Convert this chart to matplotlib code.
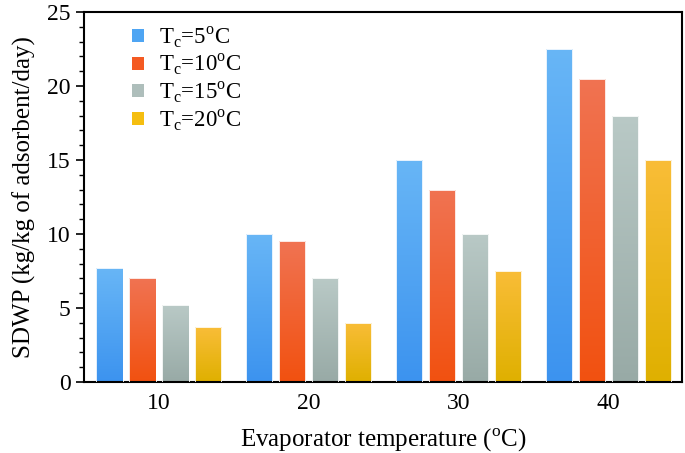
import numpy as np
import matplotlib
matplotlib.use("Agg")
import matplotlib.pyplot as plt
from matplotlib.colors import LinearSegmentedColormap
from matplotlib.patches import Patch

plt.rcParams["font.family"] = ["Liberation Serif", "DejaVu Serif"]
plt.rcParams["mathtext.fontset"] = "custom"
plt.rcParams["mathtext.rm"] = "Liberation Serif"

# data
evap_temps = [10, 20, 30, 40]
series_labels = ["T$_\\mathregular{c}$=5$^\\mathregular{o}$C",
                 "T$_\\mathregular{c}$=10$^\\mathregular{o}$C",
                 "T$_\\mathregular{c}$=15$^\\mathregular{o}$C",
                 "T$_\\mathregular{c}$=20$^\\mathregular{o}$C"]
sdwp_tc5 = [7.7, 10.0, 15.0, 22.5]
sdwp_tc10 = [7.0, 9.5, 13.0, 20.5]
sdwp_tc15 = [5.2, 7.0, 10.0, 18.0]
sdwp_tc20 = [3.7, 4.0, 7.5, 15.0]

# (top colour, bottom colour) for the gradient fill
grad_colors = [("#68b6f6", "#3c93ef"),
               ("#f07352", "#f25110"),
               ("#b9c9c6", "#98aaa6"),
               ("#f9bd38", "#dfb000")]
legend_colors = ["#4ea5f3", "#f45a22", "#aebebb", "#f5be10"]

fig = plt.figure(figsize=(6.85, 4.53), dpi=100)
ax = fig.add_axes([0.1226, 0.1567, 0.873, 0.817])

width = 1.75
step = 2.2
offsets = [-1.5 * step, -0.5 * step, 0.5 * step, 1.5 * step]
all_series = [sdwp_tc5, sdwp_tc10, sdwp_tc15, sdwp_tc20]

x = np.array(evap_temps, dtype=float)
grad = np.linspace(1, 0, 256).reshape(-1, 1)
for vals, off, (ctop, cbot) in zip(all_series, offsets, grad_colors):
    cmap = LinearSegmentedColormap.from_list("g", [cbot, ctop])
    bars = ax.bar(x + off, vals, width, color="none", edgecolor="#ffffff",
                  linewidth=0.6, zorder=3)
    for b in bars:
        x0, y0 = b.get_x(), b.get_y()
        w, h = b.get_width(), b.get_height()
        im = ax.imshow(grad, cmap=cmap, aspect="auto", vmin=0, vmax=1,
                       extent=[x0, x0 + w, y0, y0 + h], zorder=2)
        im.set_clip_path(b)

ax.set_xlim(5, 44.9)
ax.set_ylim(0, 25)
ax.set_xticks(evap_temps)
ax.set_yticks([0, 5, 10, 15, 20, 25])
ax.set_yticks(np.arange(0, 26, 1), minor=True)
ax.tick_params(axis="x", length=0, labelsize=17, pad=8)
ax.tick_params(axis="y", which="major", direction="out", length=6, width=1.2, labelsize=17)
ax.tick_params(axis="y", which="minor", direction="out", length=3.5, width=1.0)
for s in ax.spines.values():
    s.set_linewidth(1.5)

ax.set_xlabel("Evaporator temperature ($^\\mathregular{o}$C)", fontsize=18, labelpad=9)
ax.set_ylabel("SDWP (kg/kg of adsorbent/day)", fontsize=18, labelpad=8)

handles = [Patch(facecolor=c, edgecolor="none") for c in legend_colors]
ax.legend(handles, series_labels, loc="upper left", bbox_to_anchor=(0.06, 1.0),
          frameon=False, fontsize=16.5, handlelength=0.5, handleheight=0.5,
          handletextpad=0.65, labelspacing=0.1, borderaxespad=0.15)

fig.savefig("out.png", dpi=100)
